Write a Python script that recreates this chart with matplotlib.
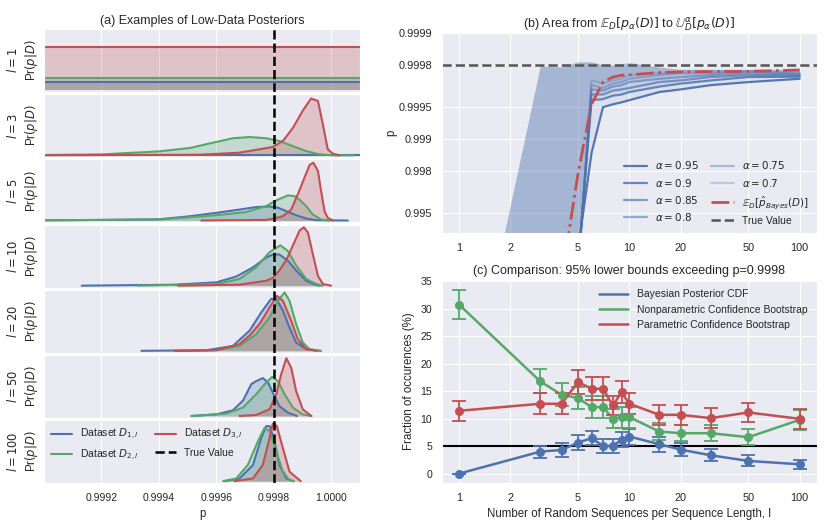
import numpy as np
import matplotlib
matplotlib.use("Agg")
import matplotlib.pyplot as plt
import seaborn as sns

sns.set_style("darkgrid")
plt.rcParams['font.family'] = ['Liberation Sans', 'DejaVu Sans']

BLUE, GREEN, RED = '#4C72B0', '#55A868', '#C44E52'

# ---------------- panel (a): posterior curves, p value and relative height
l_values = [1, 3, 5, 10, 20, 50, 100]
true_p = 0.9998

p1_blue = [0.9989, 1.0002]
h1_blue = [0.139, 0.139]
p1_green = [0.9989, 1.0002]
h1_green = [0.201, 0.201]
p1_red = [0.9989, 1.0002]
h1_red = [0.713, 0.713]

p3_blue = [0.9989, 1.0002]
h3_blue = [0.0, 0.0]
p3_green = [0.9989, 0.9992, 0.9994, 0.999507, 0.9996, 0.999657, 0.999715, 0.999773,
            0.999819, 0.999866, 0.999912, 0.999958, 1.000005, 1.000078]
h3_green = [0.0, 0.016, 0.065, 0.12, 0.22, 0.28, 0.30, 0.28, 0.235, 0.15, 0.07, 0.016, 0.0, 0.0]
p3_red = [0.9989, 0.99954, 0.99968, 0.999796, 0.999831, 0.999866, 0.9999, 0.999929,
          0.999953, 0.99997, 0.999987, 1.000005, 1.000028]
h3_red = [0.0, 0.01, 0.044, 0.137, 0.235, 0.45, 0.73, 0.93, 0.89, 0.51, 0.1, 0.027, 0.0]

p5_blue = [0.9989, 0.9992, 0.9994, 0.999507, 0.9996, 0.999681, 0.999738, 0.999785, 0.999814,
           0.999843, 0.999877, 0.999912, 0.999947, 1.000057]
h5_blue = [0.0, 0.01, 0.02, 0.07, 0.126, 0.18, 0.22, 0.23, 0.21, 0.153, 0.087, 0.033, 0.005, 0.0]
p5_green = [0.9989, 0.9994, 0.9996, 0.999704, 0.999773, 0.999808, 0.999848, 0.999871,
            0.999889, 0.999912, 0.999935, 0.999964, 0.999993]
h5_green = [0.0, 0.016, 0.087, 0.14, 0.235, 0.33, 0.41, 0.40, 0.34, 0.235, 0.1, 0.016, 0.0]
p5_red = [0.999547, 0.999773, 0.999796, 0.999831, 0.99986, 0.999883, 0.999906, 0.999924,
          0.999937, 0.999953, 0.999964, 0.999976, 0.999987, 1.000005]
h5_red = [0.0, 0.01, 0.03, 0.07, 0.18, 0.43, 0.70, 0.91, 0.945, 0.81, 0.48, 0.15, 0.044, 0.0]

p10_blue = [0.999131, 0.999449, 0.9996, 0.999669, 0.999727, 0.999773, 0.999796, 0.999819,
            0.999848, 0.999877, 0.999912, 0.999947, 0.99996]
h10_blue = [0.0, 0.016, 0.055, 0.15, 0.30, 0.46, 0.51, 0.51, 0.41, 0.25, 0.08, 0.01, 0.0]
p10_green = [0.999327, 0.9996, 0.99968, 0.999738, 0.999785, 0.999822, 0.999848, 0.999877,
             0.999912, 0.999947, 0.99997]
h10_green = [0.0, 0.027, 0.11, 0.30, 0.55, 0.66, 0.57, 0.33, 0.11, 0.027, 0.0]
p10_red = [0.999466, 0.99968, 0.999773, 0.999796, 0.999819, 0.999843, 0.999866, 0.999889,
           0.999904, 0.999918, 0.999935, 0.999953, 0.99997, 0.999999]
h10_red = [0.0, 0.016, 0.08, 0.126, 0.25, 0.42, 0.66, 0.90, 0.956, 0.87, 0.52, 0.16, 0.027, 0.0]

p20_blue = [0.999339, 0.999565, 0.999657, 0.999715, 0.999756, 0.99979, 0.999808, 0.999831,
            0.999854, 0.999877, 0.999912, 0.999963]
h20_blue = [0.0, 0.01, 0.08, 0.33, 0.63, 0.85, 0.85, 0.66, 0.38, 0.137, 0.027, 0.0]
p20_green = [0.999455, 0.999599, 0.99968, 0.999738, 0.999785, 0.999814, 0.999837, 0.999854,
             0.999877, 0.9999, 0.999924, 0.999963]
h20_green = [0.0, 0.01, 0.08, 0.27, 0.55, 0.82, 0.956, 0.82, 0.44, 0.137, 0.027, 0.0]
p20_red = [0.999455, 0.999599, 0.99968, 0.999715, 0.99975, 0.999785, 0.99981, 0.999831,
           0.99986, 0.999883, 0.999912, 0.999947]
h20_red = [0.0, 0.01, 0.11, 0.25, 0.44, 0.71, 0.90, 0.82, 0.49, 0.19, 0.027, 0.0]

p50_blue = [0.999513, 0.9996, 0.999657, 0.999692, 0.999721, 0.999738, 0.999761, 0.999779,
            0.999796, 0.999819, 0.999848, 0.99988]
h50_blue = [0.0, 0.027, 0.093, 0.25, 0.52, 0.57, 0.62, 0.55, 0.38, 0.16, 0.055, 0.0]
p50_green = [0.999513, 0.999634, 0.999692, 0.999738, 0.999773, 0.999794, 0.999814, 0.999837,
             0.999866, 0.9999, 0.99993]
h50_green = [0.0, 0.038, 0.137, 0.355, 0.55, 0.64, 0.57, 0.355, 0.137, 0.027, 0.0]
p50_red = [0.99968, 0.999738, 0.999785, 0.999808, 0.999825, 0.999843, 0.99986, 0.999877,
           0.9999, 0.99993]
h50_red = [0.0, 0.016, 0.11, 0.355, 0.68, 0.945, 0.79, 0.41, 0.11, 0.0]

p100_blue = [0.999628, 0.99968, 0.999727, 0.999756, 0.999773, 0.999785, 0.999802, 0.999819,
             0.999843, 0.999866]
h100_blue = [0.0, 0.044, 0.265, 0.71, 0.90, 0.90, 0.65, 0.265, 0.044, 0.0]
p100_green = [0.999623, 0.999669, 0.999709, 0.999744, 0.999767, 0.999785, 0.999808, 0.999831,
              0.999854, 0.99987]
h100_green = [0.0, 0.044, 0.265, 0.65, 0.87, 0.82, 0.49, 0.155, 0.016, 0.0]
p100_red = [0.999663, 0.999727, 0.999761, 0.999785, 0.999796, 0.99981, 0.999831, 0.999854,
            0.999893]
h100_red = [0.0, 0.044, 0.265, 0.71, 0.94, 0.90, 0.54, 0.155, 0.0]

# ---------------- panel (b) and (c): number of random sequences
n_seq = [1, 3, 4, 5, 6, 7, 8, 9, 10, 15, 20, 30, 50, 100]
alphas = [0.95, 0.9, 0.85, 0.8, 0.75, 0.7]
exp_a95 = [0.1, 0.8, 0.95, 0.989, 0.99865, 0.99950, 0.99953, 0.99955, 0.99957, 0.99964, 0.99966, 0.99969, 0.99971, 0.99973]
exp_a90 = [0.1, 0.8, 0.95, 0.985, 0.99957, 0.99958, 0.99961, 0.99962, 0.99964, 0.99968, 0.99970, 0.99972, 0.99974, 0.999742]
exp_a85 = [0.1, 0.8, 0.95, 0.984, 0.99962, 0.99962, 0.99965, 0.99966, 0.99967, 0.99971, 0.99972, 0.99974, 0.99975, 0.999748]
exp_a80 = [0.1, 0.8, 0.95, 0.983, 0.99966, 0.99965, 0.99968, 0.99969, 0.99971, 0.99973, 0.99974, 0.99975, 0.99976, 0.999753]
exp_a75 = [0.1, 0.8, 0.95, 0.982, 0.99969, 0.99967, 0.99970, 0.99971, 0.99973, 0.99975, 0.99976, 0.99976, 0.99977, 0.999758]
exp_a70 = [0.1, 0.8, 0.95, 0.981, 0.99972, 0.99970, 0.99972, 0.99973, 0.99975, 0.99976, 0.99977, 0.99977, 0.99977, 0.999764]
upper_bound = [0.25, 0.999795, 0.999791, 0.999813, 0.999813, 0.9998, 0.9998, 0.999805, 0.99981,
               0.99979, 0.99978, 0.99978, 0.99978, 0.99978]
exp_bayes = [0.1, 0.9, 0.979, 0.9979, 0.99953, 0.99971, 0.99974, 0.99975, 0.999752, 0.999764,
             0.999767, 0.999769, 0.99977, 0.999777]

bayes_frac = [0.0, 4.0, 4.3, 5.65, 6.44, 5.04, 5.04, 6.14, 6.74, 5.35, 4.37, 3.34, 2.31, 1.70]
bayes_err = [0.0, 1.1, 1.2, 1.35, 1.3, 1.2, 1.2, 1.35, 1.45, 1.35, 1.15, 1.1, 1.0, 0.8]
nonpar_frac = [30.74, 16.77, 14.34, 13.73, 12.09, 12.09, 10.02, 10.27, 10.27, 7.65, 7.35, 7.35, 6.62, 9.78]
nonpar_err = [2.7, 2.2, 2.1, 2.0, 2.0, 2.0, 1.8, 1.9, 1.9, 1.6, 1.5, 1.5, 1.5, 1.8]
par_frac = [11.42, 12.70, 12.70, 16.65, 15.43, 15.43, 12.39, 14.76, 12.70, 10.69, 10.69, 10.09, 11.12, 9.96]
par_err = [1.8, 1.9, 1.9, 2.2, 2.1, 2.1, 1.8, 2.0, 1.95, 1.8, 1.8, 1.75, 1.8, 1.8]

curves = {
    1: [(p1_blue, h1_blue), (p1_green, h1_green), (p1_red, h1_red)],
    3: [(p3_blue, h3_blue), (p3_green, h3_green), (p3_red, h3_red)],
    5: [(p5_blue, h5_blue), (p5_green, h5_green), (p5_red, h5_red)],
    10: [(p10_blue, h10_blue), (p10_green, h10_green), (p10_red, h10_red)],
    20: [(p20_blue, h20_blue), (p20_green, h20_green), (p20_red, h20_red)],
    50: [(p50_blue, h50_blue), (p50_green, h50_green), (p50_red, h50_red)],
    100: [(p100_blue, h100_blue), (p100_green, h100_green), (p100_red, h100_red)],
}

fig = plt.figure(figsize=(8.3, 5.29), dpi=100)
TS = 7.5
TT = 9.0
LS = 8.3
gs = fig.add_gridspec(7, 1, left=0.053, right=0.434, top=0.945, bottom=0.087, hspace=0.035)
axes_a = []
for i, l in enumerate(l_values):
    ax = fig.add_subplot(gs[i])
    axes_a.append(ax)
    for (pp, hh), col, lab in zip(curves[l], [BLUE, GREEN, RED],
                                  [r'Dataset $D_{1,l}$', r'Dataset $D_{2,l}$', r'Dataset $D_{3,l}$']):
        ax.plot(pp, hh, color=col, lw=1.5, label=lab)
        ax.fill_between(pp, hh, 0, color=col, alpha=0.25, lw=0)
    ax.axvline(true_p, color='k', ls='--', lw=1.8, label='True Value')
    ax.set_xlim(0.9990, 1.0001)
    ax.set_ylim(-0.03, 1.0)
    ax.set_yticks([])
    ax.set_xticks([0.9992, 0.9994, 0.9996, 0.9998, 1.0000])
    ax.set_ylabel(r'$l = %d$' % l + '\n' + r'Pr$(p|D)$', fontsize=LS, labelpad=3)
    if i < 6:
        ax.set_xticklabels([])
    else:
        ax.set_xticklabels(['0.9992', '0.9994', '0.9996', '0.9998', '1.0000'], fontsize=TS)
        ax.set_xlabel('p', fontsize=LS)
        h, lb = ax.get_legend_handles_labels()
        ax.legend([h[0], h[1], h[2], h[3]], [lb[0], lb[1], lb[2], lb[3]], ncol=2,
                  loc='upper left', fontsize=TS, frameon=False, borderaxespad=0.3,
                  columnspacing=1.5, handlelength=2.0)
axes_a[0].set_title('(a) Examples of Low-Data Posteriors', fontsize=TT, pad=4)


# ---------------- panel (b)
def fwd(p):
    p = np.asarray(p, dtype=float)
    return -np.log10(np.clip(1.0 - p, 1e-12, None))


def inv(t):
    return 1.0 - 10.0 ** (-np.asarray(t, dtype=float))


axb = fig.add_axes([0.5325, 0.5595, 0.4515, 0.378])
axb.set_xscale('log')
axb.set_yscale('function', functions=(fwd, inv))
line_sets = [exp_a95, exp_a90, exp_a85, exp_a80, exp_a75, exp_a70]
line_alpha = [0.95, 0.82, 0.68, 0.55, 0.42, 0.28]
for a, vals, la in zip(alphas, line_sets, line_alpha):
    axb.fill_between(n_seq, vals, upper_bound, color=BLUE, alpha=0.085, lw=0)
for a, vals, la in zip(alphas, line_sets, line_alpha):
    axb.plot(n_seq, vals, color=BLUE, alpha=la, lw=1.6, label=r'$\alpha = %g$' % a)
axb.plot(n_seq, exp_bayes, color=RED, ls='-.', lw=2.0, label=r'$\mathbb{E}_D[\hat{p}_{Bayes}(D)]$')
axb.axhline(true_p, color='#555555', ls='--', lw=1.8, label='True Value')
axb.set_xlim(10 ** -0.1, 10 ** 2.1)
axb.set_ylim(0.9923, 0.9999)
yt = [0.995, 0.998, 0.999, 0.9995, 0.9998, 0.9999]
axb.set_yticks(yt)
axb.set_yticklabels(['0.995', '0.998', '0.999', '0.9995', '0.9998', '0.9999'], fontsize=7.9)
axb.yaxis.set_minor_locator(matplotlib.ticker.NullLocator())
xt = [1, 2, 5, 10, 20, 50, 100]
axb.set_xticks(xt)
axb.set_xticklabels([str(v) for v in xt], fontsize=7.8)
axb.xaxis.set_minor_locator(matplotlib.ticker.NullLocator())
axb.set_ylabel('p', fontsize=LS, labelpad=1)
axb.set_title(r'(b) Area from $\mathbb{E}_D[p_\alpha(D)]$ to $\mathbb{U}^\alpha_D[p_\alpha(D)]$',
              fontsize=TT, pad=4)
axb.legend(ncol=2, loc='lower right', fontsize=TS, frameon=False, columnspacing=1.2,
           handlelength=2.2, borderaxespad=0.3)

# ---------------- panel (c)
axc = fig.add_axes([0.5325, 0.087, 0.4515, 0.3837])
axc.set_xscale('log')
axc.axhline(5, color='k', lw=1.5)
for fr, er, col, lab in [(bayes_frac, bayes_err, BLUE, 'Bayesian Posterior CDF'),
                         (nonpar_frac, nonpar_err, GREEN, 'Nonparametric Confidence Bootstrap'),
                         (par_frac, par_err, RED, 'Parametric Confidence Bootstrap')]:
    axc.plot(n_seq, fr, color=col, lw=1.8, label=lab)
    axc.errorbar(n_seq, fr, yerr=er, fmt='o', color=col, ms=5.5, capsize=5,
                 elinewidth=1.3, capthick=1.3)
axc.set_xlim(10 ** -0.1, 10 ** 2.1)
axc.set_ylim(-1.7, 35.2)
axc.set_yticks(range(0, 36, 5))
axc.set_yticklabels([str(v) for v in range(0, 36, 5)], fontsize=7.6)
axc.set_xticks(xt)
axc.set_xticklabels([str(v) for v in xt], fontsize=7.8)
axc.xaxis.set_minor_locator(matplotlib.ticker.NullLocator())
axc.set_xlabel('Number of Random Sequences per Sequence Length, l', fontsize=LS)
axc.set_ylabel('Fraction of occurences (%)', fontsize=LS)
axc.set_title('(c) Comparison: 95% lower bounds exceeding p=0.9998', fontsize=TT, pad=4)
axc.legend(loc='upper right', fontsize=TS, frameon=False, handlelength=2.8)

fig.savefig('out.png', dpi=100)
